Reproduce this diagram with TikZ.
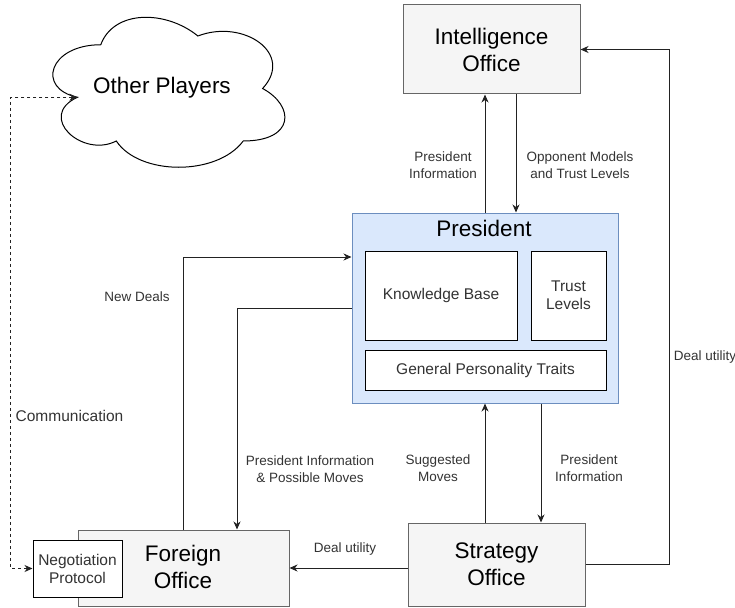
\documentclass[tikz,border=0pt]{standalone}
\usepackage{fontspec}
\setmainfont{Liberation Sans}
\usetikzlibrary{arrows.meta,calc}
\definecolor{officefill}{HTML}{F5F5F5}
\definecolor{officeline}{HTML}{666666}
\definecolor{presfill}{HTML}{DAE8FC}
\definecolor{presline}{HTML}{6C8EBF}
\definecolor{txt}{HTML}{333333}
\definecolor{edge}{HTML}{222222}
\begin{document}
\begin{tikzpicture}[x=1pt,y=-1pt,
  >={Stealth[length=8pt,width=7pt,inset=2.5pt]},
  titlefont/.style={font=\fontsize{22.5}{27}\selectfont, text=black},
  office/.style={draw=officeline, fill=officefill, line width=1pt, align=center, titlefont, inner sep=0pt},
  innerbox/.style={draw=black, fill=white, line width=1pt, align=center, text=txt, font=\fontsize{15.5}{18}\selectfont, inner sep=0pt},
  lbl/.style={align=center, text=txt, font=\fontsize{13.5}{17}\selectfont, inner sep=0pt},
  arr/.style={draw=edge, line width=1pt, ->},
  dasharr/.style={draw=edge, line width=1pt, <->, dash pattern=on 3pt off 3pt},
]
\useasboundingbox (0,0) rectangle (735,607);

% cloud
\draw[line width=1pt, draw=black, fill=white]
  (100.75,44.75) .. controls (48.95,44.75) and (36,88.5) .. (77.44,97.25)
  .. controls (36,116.5) and (82.62,158.5) .. (116.29,141)
  .. controls (139.6,176) and (217.3,176) .. (243.2,141)
  .. controls (295,141) and (295,106) .. (262.6,88.5)
  .. controls (295,53.5) and (243.2,18.5) .. (197.9,36)
  .. controls (165.5,9.75) and (113.7,9.75) .. (100.75,44.75) -- cycle;
\node[titlefont] (other) at (162,88) {Other Players};
\coordinate (cl) at (77.44,97.25);

% boxes
\node[office, minimum width=177pt, minimum height=89pt] (intel) at (491.5,49.5) {Intelligence\\Office};
\node[draw=presline, fill=presfill, line width=1pt, minimum width=266pt, minimum height=190pt, inner sep=0pt] (pres) at (485,308) {};
\node[titlefont] (prestitle) at (484,228) {President};
\node[innerbox, minimum width=152pt, minimum height=89pt] (kb) at (441,295.5) {Knowledge Base};
\node[innerbox, minimum width=75pt, minimum height=89pt] (trust) at (568.5,295.5) {Trust\\Levels};
\node[innerbox, minimum width=241pt, minimum height=40pt] (gpt) at (485.5,370) {General Personality Traits};
\node[office, minimum width=211pt, minimum height=76pt] (for) at (183.5,568) {};
\node[titlefont, align=center] (fortext) at (183,566.5) {Foreign\\Office};
\node[innerbox, minimum width=89pt, minimum height=57pt] (neg) at (77.5,568.5) {Negotiation\\Protocol};
\node[office, minimum width=177pt, minimum height=83pt] (strat) at (496.5,564.5) {Strategy\\Office};

% connectors
\draw[arr] (pres.north) -- (pres.north |- intel.south);
\draw[arr] ([xshift=24.5pt]intel.south) -- ([xshift=31pt]pres.north);
\draw[arr] (strat.north -| pres.south) -- (pres.south);
\draw[arr] ([xshift=56pt]pres.south) -- ([xshift=56pt]pres.south |- strat.north);
\draw[arr] (for.north) |- ([yshift=51pt]pres.west);
\draw[arr] (pres.west) -| ([xshift=53.5pt]for.north);
\draw[arr] (strat.west |- for.east) -- (for.east);
\draw[arr] (strat.east) -- ++(84,0) |- (intel.east);
\draw[dasharr] (cl) -- ++(-66.5,0) |- (neg.west);

% labels
\node[lbl] (l1) at (443,165) {President\\Information};
\node[lbl] (l2) at (580,165) {Opponent Models\\and Trust Levels};
\node[lbl] (l3) at (705,357) {Deal utility};
\node[lbl] (l4) at (137,297) {New Deals};
\node[lbl, font=\fontsize{15.5}{18}\selectfont] (l5) at (69.5,416) {Communication};
\node[lbl] (l6) at (310,469) {President Information\\\& Possible Moves};
\node[lbl] (l7) at (438,468) {Suggested\\Moves};
\node[lbl] (l8) at (589,468) {President\\Information};
\node[lbl] (l9) at (345,549) {Deal utility};
\end{tikzpicture}
\end{document}
